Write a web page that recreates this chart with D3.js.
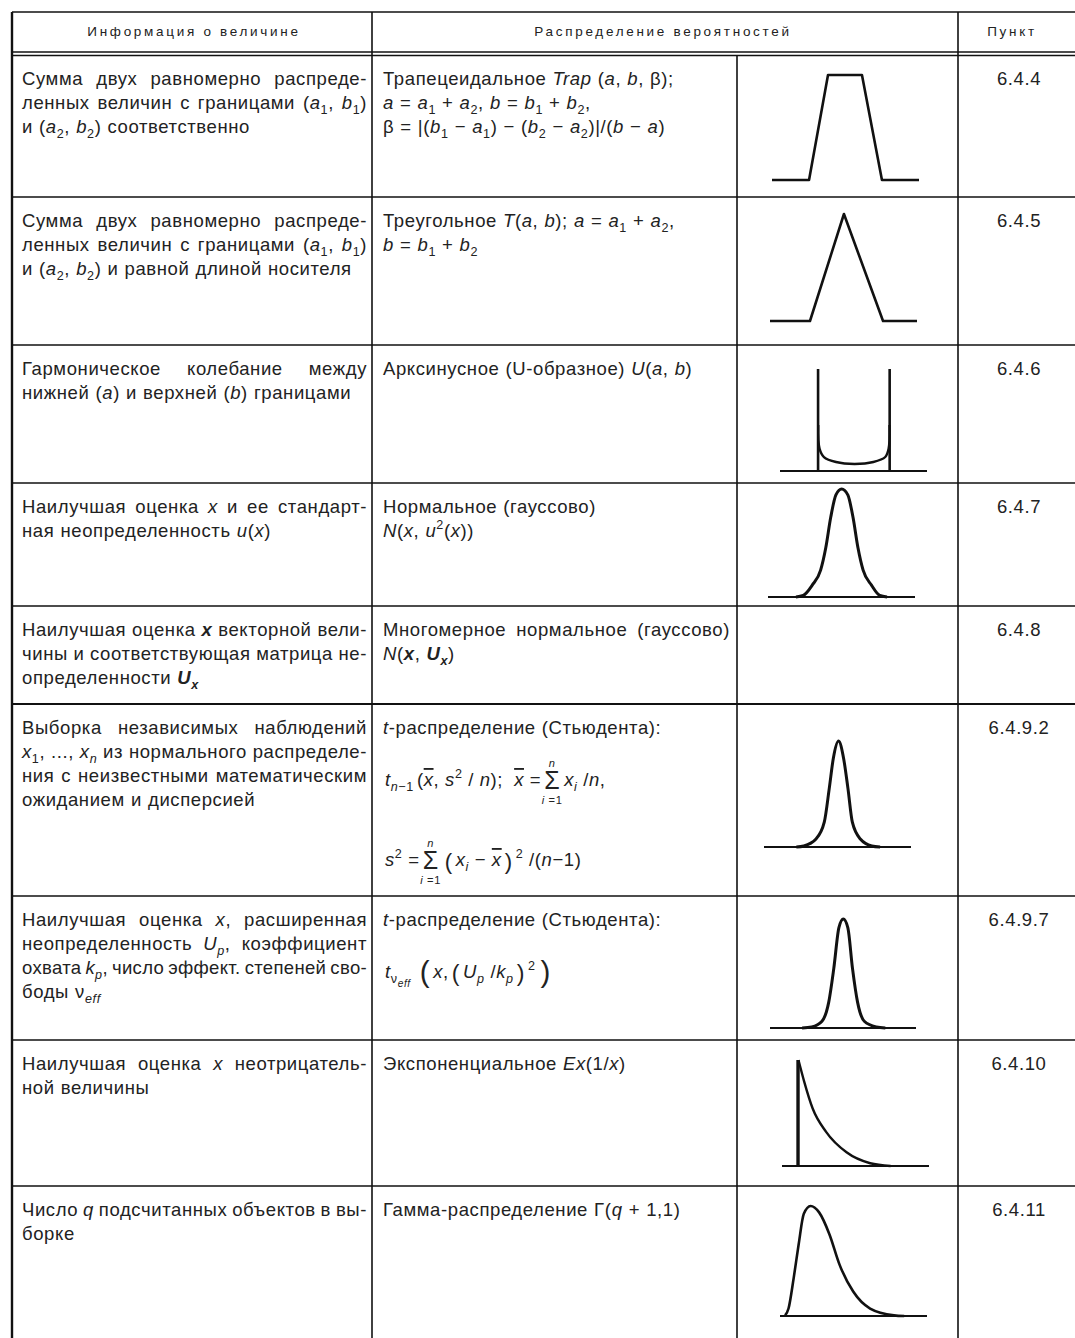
<!DOCTYPE html>
<html>
<head>
<meta charset="utf-8">
<script src="https://cdn.jsdelivr.net/npm/d3@7"></script>
<style>
	body { margin: 0; background: #fff; }
	svg text { font-family: "Liberation Sans", Arial, Helvetica, sans-serif; fill: #222; }
</style>
</head>
<body>
<div id="container"></div>
<script>
// ---- table content ----
const headers = ["Информация о величине", "Распределение вероятностей", "Пункт"];
const clauses = ["6.4.4", "6.4.5", "6.4.6", "6.4.7", "6.4.8", "6.4.9.2", "6.4.9.7", "6.4.10", "6.4.11"];

// markup: _italic_  *bold italic*  ~subscript~  #sub-subscript#  ^superscript^  !overline!
const infoLines = [
	["Сумма двух равномерно распреде-", "ленных величин с границами (_a_~1~, _b_~1~)", "и (_a_~2~, _b_~2~) соответственно"],
	["Сумма двух равномерно распреде-", "ленных величин с границами (_a_~1~, _b_~1~)", "и (_a_~2~, _b_~2~) и равной длиной носителя"],
	["Гармоническое колебание между", "нижней (_a_) и верхней (_b_) границами"],
	["Наилучшая оценка _x_ и ее стандарт-", "ная неопределенность _u_(_x_)"],
	["Наилучшая оценка *x* векторной вели-", "чины и соответствующая матрица не-", "определенности *U*~*x*~"],
	["Выборка независимых наблюдений", "_x_~1~, ..., _x_~_n_~ из нормального распределе-", "ния с неизвестными математическим", "ожиданием и дисперсией"],
	["Наилучшая оценка _x_, расширенная", "неопределенность _U_~_p_~, коэффициент", "охвата _k_~_p_~, число эффект. степеней сво-", "боды ν~_eff_~"],
	["Наилучшая оценка _x_ неотрицатель-", "ной величины"],
	["Число _q_ подсчитанных объектов в вы-", "борке"],
];

const distLines = [
	["Трапецеидальное _Trap_ (_a_, _b_, β);", "_a_ = _a_~1~ + _a_~2~, _b_ = _b_~1~ + _b_~2~,", "β = |(_b_~1~ − _a_~1~) − (_b_~2~ − _a_~2~)|/(_b_ − _a_)"],
	["Треугольное _T_(_a_, _b_); _a_ = _a_~1~ + _a_~2~,", "_b_ = _b_~1~ + _b_~2~"],
	["Арксинусное (U-образное) _U_(_a_, _b_)"],
	["Нормальное (гауссово)", "_N_(_x_, _u_^2^(_x_))"],
	["Многомерное нормальное (гауссово)", "_N_(*x*, *U*~*x*~)"],
	["_t_-распределение (Стьюдента):"],
	["_t_-распределение (Стьюдента):"],
	["Экспоненциальное _Ex_(1/_x_)"],
	["Гамма-распределение Γ(_q_ + 1,1)"],
];
const distJustified = [false, false, false, false, true, false, false, false, false];

const studentMean = [
	{ t: "_t_~_n_−1~" }, { t: "(_!x!_, _s_^2^ / _n_);" }, { gap: 8 },
	{ t: "_!x!_ =" }, { sigma: ["_n_", "_i_ =1"] }, { t: "_x_~_i_~ /_n_," },
];
const studentVar = [
	{ t: "_s_^2^ =" }, { sigma: ["_n_", "_i_ =1"] }, { gap: 2 }, { t: "(", big: 1.2 }, { t: "_x_~_i_~ − _!x!_" }, { t: ")", big: 1.2 },
	{ t: "^2^ /(_n_−1)" },
];
const studentEff = [
	{ t: "_t_~ν#_eff_#~" }, { gap: 6 }, { t: "(", big: 1.6 }, { t: "_x_," }, { t: "(", big: 1.25 }, { t: "_U_~_p_~ /_k_~_p_~" },
	{ t: ")", big: 1.25 }, { t: "^2^" }, { gap: 2 }, { t: ")", big: 1.6 },
];

// ---- curves: x and y in percent of each little plot ----
const trapezoid = [[0, 0], [25.2, 0], [38.1, 100], [61.2, 100], [74.8, 0], [100, 0]];
const triangle = [[0, 0], [27.2, 0], [50.3, 100], [76.9, 0], [100, 0]];
const arcsineWalls = [25.9, 74.6];
const arcsineBowl = [[26.0, 45], [26.9, 22], [29.9, 13.7], [38.1, 8.8], [50.7, 6.9], [63.5, 8.8], [71.6, 13.7], [73.9, 22], [74.5, 45]];
const normal = [[19, 0], [24, 1.5], [30, 10.8], [35.8, 24.9], [39.3, 45.6], [42.7, 74], [46.2, 94.6], [50.1, 100], [54.3, 94.6], [57.8, 74], [61.2, 45.6], [64.7, 24.9], [70.5, 10.8], [76, 1.5], [81, 0]];
const student1 = [[22, 0], [27.1, 1], [35.2, 7.3], [41, 23.4], [44.4, 55.3], [47.2, 84], [50.7, 100], [54.1, 84], [57.1, 55.3], [60.1, 23.4], [65.7, 7.3], [73.3, 1], [79, 0]];
const student2 = [[22, 0], [28.6, 1], [35.6, 6.2], [40.2, 23.5], [43.7, 54.7], [47.2, 92.1], [50.2, 100], [53.3, 92.1], [56.5, 54.7], [60, 23.5], [64.6, 6.2], [72.8, 1], [79, 0]];
const expoWall = 10.9;
const exponential = [[11.2, 100], [15, 80.1], [20.8, 54.5], [30, 32.2], [43.9, 12.9], [60, 2.6], [73.9, 0]];
const gamma = [[3.5, 0.6], [5.8, 6.8], [9.3, 34.4], [12.7, 65.2], [16.2, 92.9], [20.8, 100], [26.6, 94.2], [33.6, 74.4], [40.5, 46.7], [49.8, 22.2], [61.3, 6.8], [77.5, 0.6], [84.5, 0]];

// ---- layout ----
const W = 1075, H = 1338;
const colX = { left: 12, info: 372, plot: 737, clause: 958, right: 1080 };
const rowTops = [55, 197, 345, 483, 606, 704, 896, 1040, 1186, 1345];
const FS = 18.5, LINE = 24, TRACK = 0.6;
const plotBoxes = [
	{ x0: 772, x1: 919, base: 180, top: 75 },
	{ x0: 770, x1: 917, base: 321, top: 214 },
	{ x0: 780, x1: 927, base: 471, top: 369 },
	{ x0: 768, x1: 915, base: 597, top: 489 },
	null,
	{ x0: 764, x1: 911, base: 847, top: 741 },
	{ x0: 770, x1: 916, base: 1028, top: 919 },
	{ x0: 782, x1: 929, base: 1166, top: 1060 },
	{ x0: 780, x1: 927, base: 1316, top: 1206 },
];

const svg = d3.select("#container").append("svg").attr("width", W).attr("height", H);

function parseRuns(str) {
	const runs = [];
	let st = { i: false, b: false, sub: false, sub2: false, sup: false, ov: false };
	let buf = "";
	const flush = () => { if (buf) runs.push({ text: buf, ...st }); buf = ""; };
	const keys = { "_": "i", "*": "b", "~": "sub", "#": "sub2", "^": "sup", "!": "ov" };
	for (const ch of str) {
		if (keys[ch]) { flush(); st = { ...st, [keys[ch]]: !st[keys[ch]] }; }
		else buf += ch;
	}
	flush();
	return runs;
}

function drawRich(parent, str, x, y, size) {
	const t = parent.append("text").attr("x", x).attr("y", y).style("font-size", size + "px");
	let cur = 0;
	parseRuns(str).forEach((r) => {
		let off = 0, fs = size;
		if (r.sub) { off = size * 0.28; fs = size * 0.68; }
		if (r.sub2) { off += size * 0.18; fs = size * 0.55; }
		if (r.sup) { off = -size * 0.42; fs = size * 0.68; }
		t.append("tspan")
			.attr("dy", off - cur)
			.style("font-size", fs + "px")
			.style("font-style", r.i || r.b ? "italic" : "normal")
			.style("font-weight", r.b ? "bold" : "normal")
			.style("text-decoration", r.ov ? "overline" : "none")
			.text(r.text);
		cur = off;
	});
	return t;
}

function drawLine(g, str, x, y, width, justify, size = FS) {
	const words = str.split(" ").filter((w) => w.length);
	const nodes = words.map((w) => drawRich(g, w, x, y, size));
	let widths = nodes.map((n) => n.node().getComputedTextLength());
	let sum = d3.sum(widths);
	const minGap = size * 0.22;
	if (justify && words.length > 1 && width - sum < minGap * (words.length - 1)) {
		// line too long: tighten tracking like the typesetter did
		const chars = d3.sum(words, (w) => w.replace(/[_*~#^!]/g, "").length);
		const cut = (minGap * (words.length - 1) - (width - sum)) / chars;
		nodes.forEach((n) => n.style("letter-spacing", TRACK - cut + "px"));
		widths = nodes.map((n) => n.node().getComputedTextLength());
		sum = d3.sum(widths);
	}
	const gap = justify && words.length > 1 ? (width - sum) / (words.length - 1) : size * 0.33;
	let cx = x;
	nodes.forEach((n, i) => { n.attr("x", cx); cx += widths[i] + gap; });
}

function drawParagraph(g, lines, x, top, width, justifyAll) {
	lines.forEach((l, i) => {
		drawLine(g, l, x, top + 30 + i * LINE, width, justifyAll && i < lines.length - 1);
	});
}

function drawPieces(g, pieces, x, y, size) {
	let cx = x;
	pieces.forEach((p) => {
		if (p.gap) { cx += p.gap; return; }
		if (p.sigma) {
			const s = g.append("text").attr("x", cx).attr("y", y + 3).style("font-size", size * 1.35 + "px").text("Σ");
			const w = s.node().getComputedTextLength();
			drawRich(g, p.sigma[0], cx + w / 2, y - size * 1.05, size * 0.6).attr("text-anchor", "middle");
			drawRich(g, p.sigma[1], cx + w / 2, y + size * 0.95, size * 0.6).attr("text-anchor", "middle");
			cx += w + 4;
			return;
		}
		const sz = size * (p.big || 1);
		const t = drawRich(g, p.t, cx, y + (p.big ? sz * 0.12 : 0), sz).style("font-weight", p.big ? 300 : null);
		cx += t.node().getComputedTextLength() + 3;
	});
}

// ---- grid ----
const grid = svg.append("g").attr("stroke", "#111").attr("fill", "none");
grid.append("line").attr("x1", colX.left).attr("x2", colX.right).attr("y1", 12).attr("y2", 12).attr("stroke-width", 1.5);
[52, 55.5].forEach((y) => grid.append("line").attr("x1", colX.left).attr("x2", colX.right).attr("y1", y).attr("y2", y).attr("stroke-width", 1.4));
rowTops.slice(1, -1).forEach((y, i) => {
	grid.append("line").attr("x1", colX.left).attr("x2", colX.right).attr("y1", y).attr("y2", y)
		.attr("stroke-width", i === 4 ? 2.2 : 1.5);
});
grid.append("line").attr("x1", colX.left).attr("x2", colX.left).attr("y1", 12).attr("y2", H).attr("stroke-width", 2.4);
[colX.info, colX.clause].forEach((x) => grid.append("line").attr("x1", x).attr("x2", x).attr("y1", 12).attr("y2", H).attr("stroke-width", 1.6));
grid.append("line").attr("x1", colX.plot).attr("x2", colX.plot).attr("y1", 55.5).attr("y2", H).attr("stroke-width", 1.6);

// ---- header ----
const head = svg.append("g").style("font-size", "13.5px").style("letter-spacing", "2.7px").attr("text-anchor", "middle");
[[headers[0], (colX.left + colX.info) / 2 + 2], [headers[1], (colX.info + colX.clause) / 2 - 2], [headers[2], 1012]].forEach(([t, x]) => {
	head.append("text").attr("x", x).attr("y", 36).text(t);
});

// ---- body text ----
const body = svg.append("g").style("letter-spacing", TRACK + "px");
infoLines.forEach((lines, r) => drawParagraph(body, lines, 22, rowTops[r], 345, true));
distLines.forEach((lines, r) => drawParagraph(body, lines, 383, rowTops[r], 347, distJustified[r]));
clauses.forEach((c, r) => {
	body.append("text").attr("x", 1019).attr("y", rowTops[r] + 30).attr("text-anchor", "middle").style("font-size", FS + "px").text(c);
});
drawPieces(body, studentMean, 385, 786, 18.5);
drawPieces(body, studentVar, 385, 866, 18.5);
drawPieces(body, studentEff, 385, 978, 18.5);

// ---- little density plots ----
const plots = svg.append("g").attr("fill", "none").attr("stroke", "#111").attr("stroke-linejoin", "round");

function plotScales(i) {
	const b = plotBoxes[i];
	return {
		x: d3.scaleLinear().domain([0, 100]).range([b.x0, b.x1]),
		y: d3.scaleLinear().domain([0, 100]).range([b.base, b.top]),
	};
}

function drawCurve(i, pts, curve, width) {
	const { x, y } = plotScales(i);
	const line = d3.line().x((d) => x(d[0])).y((d) => y(d[1])).curve(curve);
	plots.append("path").attr("d", line(pts)).attr("stroke-width", width);
}

function drawBase(i, width = 2) {
	const { x, y } = plotScales(i);
	plots.append("line").attr("x1", x(0)).attr("x2", x(100)).attr("y1", y(0)).attr("y2", y(0)).attr("stroke-width", width);
}

function drawWall(i, xv, width) {
	const { x, y } = plotScales(i);
	plots.append("line").attr("x1", x(xv)).attr("x2", x(xv)).attr("y1", y(0)).attr("y2", y(100)).attr("stroke-width", width);
}

drawCurve(0, trapezoid, d3.curveLinear, 2.6);
drawCurve(1, triangle, d3.curveLinear, 2.6);
drawBase(2);
arcsineWalls.forEach((w) => drawWall(2, w, 2.6));
drawCurve(2, arcsineBowl, d3.curveCatmullRom, 2.4);
drawBase(3);
drawCurve(3, normal, d3.curveMonotoneX, 3);
drawBase(5);
drawCurve(5, student1, d3.curveMonotoneX, 3);
drawBase(6);
drawCurve(6, student2, d3.curveMonotoneX, 3);
drawBase(7);
drawWall(7, expoWall, 3.4);
drawCurve(7, exponential, d3.curveMonotoneX, 2.4);
drawBase(8);
drawCurve(8, gamma, d3.curveMonotoneX, 2.6);
</script>
</body>
</html>
